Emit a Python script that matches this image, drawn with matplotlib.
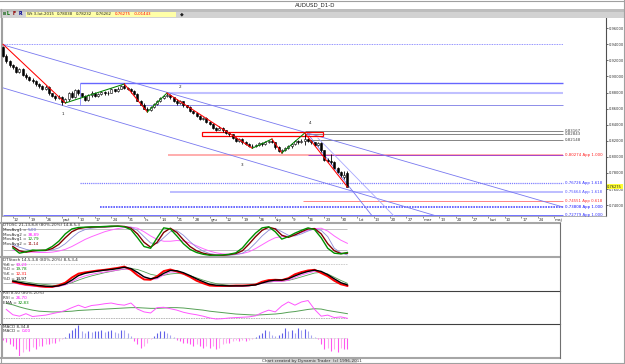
import numpy as np
import pandas as pd
import matplotlib
matplotlib.use('Agg')
import matplotlib.pyplot as plt
from matplotlib.patches import Rectangle

# ---------------- data (AUDUSD daily) ----------------
first_day = '2014-09-09'

opens = [0.9370, 0.9260, 0.9190, 0.9140, 0.9120, 0.9060, 0.9090, 0.9020, 0.8990, 0.8960,
         0.8940, 0.8900, 0.8880, 0.8850, 0.8870, 0.8790, 0.8760, 0.8730, 0.8750, 0.8680,
         0.8720, 0.8790, 0.8740, 0.8830, 0.8790, 0.8760, 0.8710, 0.8770, 0.8800, 0.8760,
         0.8780, 0.8810, 0.8790, 0.8800, 0.8840, 0.8820, 0.8850, 0.8880, 0.8860, 0.8850,
         0.8820, 0.8780, 0.8700, 0.8650, 0.8600, 0.8580, 0.8620, 0.8660, 0.8700, 0.8730,
         0.8760, 0.8770, 0.8740, 0.8700, 0.8670, 0.8690, 0.8640, 0.8620, 0.8570, 0.8550,
         0.8510, 0.8470, 0.8480, 0.8430, 0.8410, 0.8360, 0.8340, 0.8360, 0.8330, 0.8300,
         0.8280, 0.8240, 0.8200, 0.8220, 0.8180, 0.8160, 0.8140, 0.8130, 0.8150, 0.8170,
         0.8160, 0.8190, 0.8200, 0.8180, 0.8120, 0.8070, 0.8090, 0.8110, 0.8130, 0.8160,
         0.8200, 0.8180, 0.8200, 0.8220, 0.8200, 0.8180, 0.8150, 0.8170, 0.8080, 0.7960,
         0.7950, 0.7930, 0.7860, 0.7810, 0.7745, 0.7804]
highs = [0.9380, 0.9275, 0.9200, 0.9160, 0.9130, 0.9110, 0.9100, 0.9040, 0.9000, 0.8975,
         0.8950, 0.8920, 0.8890, 0.8895, 0.8880, 0.8800, 0.8775, 0.8770, 0.8760, 0.8735,
         0.8810, 0.8815, 0.8850, 0.8845, 0.8800, 0.8770, 0.8785, 0.8815, 0.8810, 0.8795,
         0.8825, 0.8820, 0.8815, 0.8855, 0.8850, 0.8865, 0.8895, 0.8906, 0.8875, 0.8860,
         0.8830, 0.8790, 0.8710, 0.8665, 0.8615, 0.8630, 0.8675, 0.8710, 0.8740, 0.8775,
         0.8794, 0.8785, 0.8750, 0.8715, 0.8710, 0.8700, 0.8650, 0.8630, 0.8580, 0.8560,
         0.8520, 0.8500, 0.8490, 0.8445, 0.8420, 0.8375, 0.8380, 0.8370, 0.8340, 0.8315,
         0.8290, 0.8250, 0.8240, 0.8230, 0.8195, 0.8170, 0.8155, 0.8165, 0.8185, 0.8180,
         0.8200, 0.8215, 0.8222, 0.8190, 0.8130, 0.8100, 0.8125, 0.8145, 0.8175, 0.8215,
         0.8210, 0.8225, 0.8297, 0.8240, 0.8215, 0.8190, 0.8185, 0.8180, 0.8090, 0.7990,
         0.8030, 0.7945, 0.7875, 0.7830, 0.7830, 0.7823]
lows = [0.9245, 0.9170, 0.9120, 0.9090, 0.9040, 0.9040, 0.9000, 0.8970, 0.8940, 0.8920,
        0.8880, 0.8860, 0.8830, 0.8835, 0.8770, 0.8740, 0.8710, 0.8715, 0.8645, 0.8665,
        0.8700, 0.8730, 0.8730, 0.8775, 0.8740, 0.8690, 0.8700, 0.8750, 0.8745, 0.8745,
        0.8770, 0.8775, 0.8770, 0.8790, 0.8805, 0.8810, 0.8840, 0.8850, 0.8830, 0.8800,
        0.8765, 0.8690, 0.8640, 0.8590, 0.8558, 0.8570, 0.8610, 0.8645, 0.8680, 0.8715,
        0.8740, 0.8720, 0.8685, 0.8650, 0.8660, 0.8625, 0.8605, 0.8555, 0.8530, 0.8495,
        0.8455, 0.8460, 0.8415, 0.8395, 0.8345, 0.8320, 0.8330, 0.8315, 0.8285, 0.8265,
        0.8225, 0.8185, 0.8190, 0.8165, 0.8145, 0.8120, 0.8107, 0.8120, 0.8135, 0.8140,
        0.8150, 0.8175, 0.8170, 0.8100, 0.8060, 0.8048, 0.8075, 0.8095, 0.8115, 0.8150,
        0.8165, 0.8170, 0.8150, 0.8185, 0.8165, 0.8135, 0.8140, 0.8065, 0.7945, 0.7930,
        0.7915, 0.7845, 0.7795, 0.7745, 0.7730, 0.7626]
closes = [0.9260, 0.9190, 0.9140, 0.9120, 0.9060, 0.9090, 0.9020, 0.8990, 0.8960, 0.8940,
          0.8900, 0.8880, 0.8850, 0.8870, 0.8790, 0.8760, 0.8730, 0.8750, 0.8680, 0.8720,
          0.8790, 0.8740, 0.8830, 0.8790, 0.8760, 0.8710, 0.8770, 0.8800, 0.8760, 0.8780,
          0.8810, 0.8790, 0.8800, 0.8840, 0.8820, 0.8850, 0.8880, 0.8860, 0.8850, 0.8820,
          0.8780, 0.8700, 0.8650, 0.8600, 0.8580, 0.8620, 0.8660, 0.8700, 0.8730, 0.8760,
          0.8770, 0.8740, 0.8700, 0.8670, 0.8690, 0.8640, 0.8620, 0.8570, 0.8550, 0.8510,
          0.8470, 0.8480, 0.8430, 0.8410, 0.8360, 0.8340, 0.8360, 0.8330, 0.8300, 0.8280,
          0.8240, 0.8200, 0.8220, 0.8180, 0.8160, 0.8140, 0.8130, 0.8150, 0.8170, 0.8160,
          0.8190, 0.8200, 0.8180, 0.8120, 0.8070, 0.8090, 0.8110, 0.8130, 0.8160, 0.8200,
          0.8180, 0.8200, 0.8220, 0.8200, 0.8180, 0.8150, 0.8170, 0.8080, 0.7960, 0.7950,
          0.7930, 0.7860, 0.7810, 0.7770, 0.7772, 0.76275]

tick_dates = ['2014-09-12', '2014-09-19', '2014-09-26', '2014-10-03', '2014-10-10', '2014-10-17',
              '2014-10-24', '2014-10-31', '2014-11-07', '2014-11-14', '2014-11-21', '2014-11-28',
              '2014-12-05', '2014-12-12', '2014-12-19', '2014-12-26', '2015-01-02', '2015-01-09',
              '2015-01-16', '2015-01-23', '2015-01-30', '2015-02-06', '2015-02-13', '2015-02-20',
              '2015-02-27', '2015-03-06', '2015-03-13', '2015-03-20', '2015-03-27', '2015-04-03',
              '2015-04-10', '2015-04-17', '2015-04-24', '2015-05-01']
tick_labels = ['12', '19', '26', 'paź', '10', '17', '24', '31', 'lis', '14', '21', '28',
               'gru', '12', '19', '26', 'sty', '9', '16', '23', '30', 'lut', '13', '20',
               '27', 'mar', '13', '20', '27', 'kwi', '10', '17', '24', 'maj']
price_ticks = [0.74, 0.76, 0.78, 0.80, 0.82, 0.84, 0.86, 0.88, 0.90, 0.92, 0.94, 0.96]

# swing points (index, price) for the zigzag
swing_idx = [0, 19, 37, 44, 50, 76, 82, 85, 92, 105]
swing_px = [0.9400, 0.8670, 0.8906, 0.8558, 0.8794, 0.8107, 0.8222, 0.8048, 0.8297, 0.7626]
wave_labels = ['1', '2', '3', '4']
wave_idx = [18.3, 54.0, 73.0, 93.6]
wave_px = [0.8532, 0.8869, 0.7899, 0.8421]

# horizontal levels
level_px = [0.9400, 0.8915, 0.8798, 0.8641, 0.83167, 0.82843, 0.82148, 0.80274,
            0.76726, 0.75664, 0.74551, 0.73808, 0.72779]
level_start = [-1, 23.5, 50.3, 19.5, 92, 92, 92, 50.3, 23.5, 51, 91.5, 29.6, 0]
level_text = ['', '', '', '', '0,83167', '0,82843', '0,82148', '0,80274 App 1.000',
              '0,76726 App 1.618', '0,75664 App 1.618', '0,74551 App 0.618',
              '0,73808 App 1.000', '0,72779 App 1.000']

# trend / channel lines: (start idx, end idx), (start price, end price)
trend_idx = [(-0.9, 170.7), (-0.9, 133.2), (92.7, 112.8), (96.0, 119.5)]
trend_px = [(0.94037, 0.73764), (0.88689, 0.72520), (0.8297, 0.7252), (0.8234, 0.7252)]
box_idx = (60.7, 97.6)
box_px = (0.8263, 0.8313)

# indicators
osc_idx = list(range(3, 106, 2))
dtosc_fast = [26, 11, 15, 20, 19, 20, 30, 45, 66, 80, 84, 85, 86, 86, 87, 88, 88, 86, 78, 55,
              30, 25, 55, 83, 80, 60, 38, 22, 13, 8, 5, 5, 6, 8, 12, 26, 48, 68, 83, 86,
              72, 51, 58, 68, 76, 83, 78, 55, 25, 11, 9, 13]
dtosc_sig = [30, 18, 14, 17, 19, 19, 24, 36, 55, 72, 81, 84, 85, 86, 86, 87, 88, 87, 82, 66,
             42, 28, 42, 70, 82, 70, 49, 30, 18, 11, 7, 5, 5, 7, 10, 18, 37, 58, 76, 85,
             80, 62, 56, 63, 72, 80, 81, 66, 38, 18, 10, 11]
dtosc_slow1 = [35, 28, 22, 18, 17, 18, 20, 26, 38, 55, 70, 78, 82, 84, 85, 86, 87, 87, 85, 76,
               58, 40, 38, 55, 72, 75, 62, 44, 28, 17, 10, 7, 5, 5, 7, 11, 22, 40, 60, 76,
               82, 72, 62, 60, 66, 74, 80, 76, 58, 25, 12, 6]
dtosc_slow2 = [20, 17, 15, 14, 13, 13, 14, 17, 22, 30, 40, 50, 58, 65, 72, 77, 81, 84, 85, 82,
               72, 60, 50, 45, 45, 47, 46, 40, 32, 24, 17, 12, 9, 8, 8, 10, 15, 24, 35, 46,
               55, 58, 60, 64, 70, 76, 81, 82, 74, 60, 48, 39]
stoch_k2 = [25, 20, 16, 14, 11, 9, 9, 14, 22, 38, 50, 54, 57, 60, 62, 65, 68, 72, 62, 45,
            32, 31, 42, 58, 63, 57, 50, 40, 28, 20, 13, 12, 12, 12, 13, 13, 14, 16, 25, 30,
            31, 30, 36, 48, 55, 60, 62, 52, 42, 28, 17, 12]
stoch_d2 = [27, 23, 19, 16, 13, 11, 10, 12, 18, 30, 44, 51, 55, 58, 61, 63, 66, 70, 66, 54,
            40, 34, 38, 51, 60, 59, 53, 44, 34, 25, 17, 14, 13, 12, 12, 12, 13, 15, 21, 27,
            30, 30, 34, 43, 51, 57, 61, 57, 47, 34, 22, 15]
stoch_k1 = [22, 17, 13, 11, 9, 8, 8, 10, 15, 25, 36, 43, 48, 52, 55, 58, 61, 65, 62, 52,
            40, 32, 34, 46, 55, 55, 49, 40, 30, 21, 14, 11, 10, 10, 10, 10, 12, 15, 20, 24,
            26, 26, 29, 38, 46, 52, 57, 54, 44, 31, 19, 10]
stoch_d1 = [30, 27, 24, 21, 18, 16, 14, 14, 16, 22, 30, 37, 43, 48, 53, 57, 61, 64, 66, 63,
            56, 48, 44, 45, 49, 51, 49, 44, 37, 30, 24, 19, 16, 14, 13, 13, 14, 17, 21, 24,
            26, 27, 29, 34, 40, 46, 52, 54, 49, 39, 29, 20]
rsi_idx = list(range(1, 106, 2))
rsi = [45, 30, 26, 33, 25, 27, 29, 33, 37, 42, 50, 57, 50, 56, 58, 61, 63, 59, 57, 63,
       46, 38, 35, 50, 51, 47, 43, 37, 33, 30, 26, 21, 18, 19, 21, 22, 23, 24, 27, 36,
       43, 38, 55, 66, 57, 66, 70, 45, 26, 29, 22, 24, 20]
rsi_ema = [62, 58, 52, 47, 43, 40, 39, 38, 38, 39, 40, 42, 43, 44, 45, 46, 47, 48, 49, 50,
           50, 49, 48, 48, 49, 50, 50, 49, 47, 45, 43, 40, 38, 36, 34, 32, 31, 30, 29, 30,
           31, 32, 34, 37, 39, 42, 45, 47, 46, 42, 39, 36, 33]
macd_hist = [-6, -12, -18, -26, -35, -55, -44, -35, -40, -29,
             -35, -24, -24, -19, -19, -15, -15, -10, -3, 3,
             15, 25, 30, 40, 20, 15, 20, 17, 20, 20,
             23, 17, 20, 23, 17, 15, 25, 23, 15, 5,
             -10, -20, -30, -25, -15, -3, 6, 15, 20, 20,
             15, 10, 3, -5, -10, -15, -15, -20, -25, -20,
             -25, -30, -25, -30, -25, -35, -30, -20, -15, -15,
             -10, -5, -10, -5, -10, -5, -3, 3, 10, 15,
             25, 20, 10, 5, 10, 15, 30, 20, 25, 15,
             30, 25, 27, 21, 10, 3, -3, -20, -35, -30,
             -40, -35, -45, -30, -35, -35]

toolbar_vals = ['Wt 3-lut-2015', '0,78038', '0,78232', '0,76262', '0,76275', '-0,01443']

# ---------------- layout helpers ----------------
W, H = 625, 364
FS = 3.0          # tiny bitmap-like font
PX = 3.28         # pixels per candle
X0 = 3.0          # pixel column of first candle


def box(x0, y0, x1, y1):
    return [x0 / W, 1 - y1 / H, (x1 - x0) / W, (y1 - y0) / H]


def ix(px):
    return (px - X0) / PX


def fmt(v):
    return '{:.5f}'.format(v).replace('.', ',')


fig = plt.figure(figsize=(W / 100, H / 100), dpi=100, facecolor='white')

# ---------------- main price chart ----------------
ax = fig.add_axes(box(2, 18, 606, 216))
ax.set_xlim(ix(2), ix(606))
ax.set_ylim(0.72644, 0.9727)
ax.spines['top'].set_visible(False)
ax.spines['left'].set_color('#a0a0a0')
ax.spines['bottom'].set_color('#a0a0a0')
ax.spines['bottom'].set_linewidth(0.6)
ax.spines['right'].set_color('#505050')
ax.spines['right'].set_linewidth(0.8)
ax.yaxis.tick_right()
ax.set_yticks(price_ticks)
ax.set_yticklabels([fmt(v) for v in price_ticks])
ax.tick_params(axis='y', length=1.5, width=0.5, pad=0.4, labelsize=2.6, colors='#333333')

bdays = pd.bdate_range(first_day, periods=200)
tick_pos = [bdays.get_loc(pd.Timestamp(d)) for d in tick_dates]
ax.set_xticks(tick_pos)
ax.set_xticklabels([])
ax.tick_params(axis='x', length=1.5, width=0.5, colors='#666666')
for p, lab in zip(tick_pos, tick_labels):
    ax.text(p + 0.3, -0.01, lab, transform=ax.get_xaxis_transform(), ha='left', va='top',
            fontsize=FS, color='#333333')

o = np.array(opens)
h = np.array(highs)
l = np.array(lows)
c = np.array(closes)
x = np.arange(len(c))
up = c >= o

# levels
lvl_style = [dict(color='#7070ff', lw=0.6, ls=(0, (1, 1))),
             dict(color='#6666ff', lw=1.0),
             dict(color='#c0c0ff', lw=1.5),
             dict(color='#6060e0', lw=0.5),
             dict(color='#707070', lw=0.6),
             dict(color='#707070', lw=0.6),
             dict(color='#707070', lw=0.6),
             dict(color='#ffa0a0', lw=1.2),
             dict(color='#8080ff', lw=0.9, ls=(0, (1, 0.7))),
             dict(color='#b8b8ff', lw=1.3),
             dict(color='#ff7070', lw=0.6),
             dict(color='#5050ff', lw=1.2, ls=(0, (1, 0.6))),
             dict(color='#7070ff', lw=0.7)]
lvl_txt_col = ['k', 'k', 'k', 'k', '#404040', '#404040', '#404040', '#ff2020',
               '#3030ff', '#5050ff', '#ff3030', '#1010ff', '#3030ff']
for k, lv in enumerate(level_px):
    ax.hlines(lv, level_start[k], ix(563), zorder=2, **lvl_style[k])
    if level_text[k]:
        ax.text(ix(565), lv, level_text[k], fontsize=2.8, va='center', ha='left',
                color=lvl_txt_col[k], zorder=5)
# purple overlay on the 1.000 level
ax.hlines(level_px[7], 93, ix(563), color='#9933cc', lw=0.6, zorder=2)
ax.vlines(level_start[1], level_px[3], level_px[1], color='#7070ff', lw=0.5, zorder=2)

# channel / trend lines
tr_col = ['#7878f0', '#7878f0', '#7878f0', '#a8a8ff']
for k in range(len(trend_idx)):
    ax.plot(trend_idx[k], trend_px[k], color=tr_col[k], lw=0.6, zorder=2)

ax.add_patch(Rectangle((box_idx[0], box_px[0]), box_idx[1] - box_idx[0], box_px[1] - box_px[0],
                       fill=False, ec='#ff0000', lw=0.9, zorder=3))

# candles
ax.vlines(x, l, h, color='black', lw=0.6, zorder=4)
ax.bar(x, np.maximum(np.abs(c - o), 0.0003), bottom=np.minimum(o, c), width=0.62,
       color=np.where(up, 'white', 'black'), edgecolor='black', linewidth=0.4, zorder=4)

# zigzag
for k in range(len(swing_idx) - 1):
    col = '#ff0000' if swing_px[k + 1] < swing_px[k] else '#008000'
    ax.plot(swing_idx[k:k + 2], swing_px[k:k + 2], color=col, lw=0.75, zorder=5)
for lab, wi, wp in zip(wave_labels, wave_idx, wave_px):
    ax.text(wi, wp, lab, fontsize=FS, ha='center', va='center', color='#202020')

ax.text(1.002, c[-1], fmt(c[-1]), transform=ax.get_yaxis_transform(), fontsize=2.6,
        va='center', ha='left', color='#202020',
        bbox=dict(fc='#ffff33', ec='none', pad=0.3), zorder=6)


# ---------------- indicator panels ----------------
def panel(y0, y1, ylo, yhi):
    a = fig.add_axes(box(2, y0, 560, y1))
    a.set_xlim(ix(2), ix(560))
    a.set_ylim(ylo, yhi)
    a.set_xticks([])
    a.set_yticks([])
    for s in a.spines.values():
        s.set_visible(False)
    a.spines['left'].set_visible(True)
    a.spines['left'].set_color('#a0a0a0')
    return a


last = len(c) - 1
p1 = panel(224, 256, 3, 94)
p1.hlines([80, 20], 0, last, color='#b4b4b4', lw=0.6)
p1.plot(osc_idx, dtosc_slow2, color='#ff66ff', lw=0.7)
p1.plot(osc_idx, dtosc_slow1, color='#8c8cd8', lw=0.6)
p1.plot(osc_idx, dtosc_sig, color='#800000', lw=1.0)
p1.plot(osc_idx, dtosc_fast, color='#009000', lw=1.0)

p2 = panel(258, 290, -0.8, 98.7)
p2.hlines(80, 0, last, color='#c8c8c8', lw=0.6, ls=(0, (2, 1)))
p2.hlines(20, 0, last, color='#a8a8a8', lw=0.6)
p2.plot(osc_idx, stoch_d1, color='#55a055', lw=0.6)
p2.plot(osc_idx, stoch_k1, color='#ff55ff', lw=0.6)
p2.plot(osc_idx, stoch_k2, color='#ff0000', lw=1.4)
p2.plot(osc_idx, stoch_d2, color='#000000', lw=1.0)

p3 = panel(292, 323, 6.8, 94)
p3.hlines(20, 0, last, color='#b0b0b0', lw=0.6, ls=(0, (2, 1)))
p3.plot(rsi_idx, rsi_ema, color='#55a055', lw=0.7)
p3.plot(rsi_idx, rsi, color='#ff55ff', lw=0.7)

p4 = panel(325, 356, -56, 40)
p4.hlines(0, 0, last, color='#b0b0b0', lw=0.5, ls=(0, (1, 1)))
mh = np.array(macd_hist, dtype=float)
grow = np.abs(mh) >= np.abs(np.concatenate([[0], mh[:-1]]))
mcol = np.where(mh >= 0, np.where(grow, '#6060e8', '#a8a8f0'),
                np.where(grow, '#ff55ee', '#ffa8f0'))
p4.vlines(np.arange(len(mh)), 0, mh, colors=mcol, lw=0.8)

# ---------------- overlay: frame, toolbar, texts ----------------
ov = fig.add_axes([0, 0, 1, 1], zorder=10)
ov.set_xlim(0, W)
ov.set_ylim(H, 0)
ov.axis('off')
ov.patch.set_alpha(0)

ov.plot([0, W], [0.5, 0.5], color='#a0a0a0', lw=0.8)
ov.add_patch(Rectangle((0, 9), W, 8.5, color='#d2d2d2', lw=0))
ov.add_patch(Rectangle((0, 9), W, 2.5, color='#bdbdbd', lw=0))
ov.text(315, 5, 'AUDUSD_D1-D', fontsize=4, ha='center', va='center', color='#202020')

ov.add_patch(Rectangle((2.5, 12), 3, 3, color='#5a8a5a', lw=0))
ov.text(7, 13.8, 'L', fontsize=FS + 0.4, color='#007000', ha='left', va='center', weight='bold')
ov.text(13, 13.8, 'F', fontsize=FS + 0.4, color='#900000', ha='left', va='center', weight='bold')
ov.text(19, 13.8, 'R', fontsize=FS + 0.4, color='#000090', ha='left', va='center', weight='bold')
ov.add_patch(Rectangle((26, 11.5), 150, 5, color='#ffffa8', lw=0))
bar_col = ['#202020', '#202020', '#202020', '#202020', '#ff0000', '#ff0000']
prev = ov.text(27, 14, toolbar_vals[0], fontsize=2.8, color=bar_col[0], ha='left', va='center')
for s, bc in zip(toolbar_vals[1:], bar_col[1:]):
    prev = ov.annotate(s, xy=(1, 0.5), xycoords=prev, xytext=(2.2, 0), textcoords='offset points',
                       fontsize=2.8, color=bc, ha='left', va='center')
ov.text(182, 14, '◆', fontsize=FS + 0.5, color='#202020', ha='center', va='center')

sep = [(223, '#a6a6a6', 1.5), (257, '#a6a6a6', 1.5), (291, '#404040', 0.8),
       (324, '#404040', 0.8), (357.5, '#a6a6a6', 1.5)]
for yy, col, lw in sep:
    ov.plot([0, 560], [yy, yy], color=col, lw=lw)
ov.plot([560, 560], [223, 358], color='#707070', lw=0.8)
ov.plot([1, 1], [9, 363], color='#a0a0a0', lw=0.8)
ov.plot([624, 624], [0, 364], color='#a0a0a0', lw=0.8)
ov.plot([0, W], [363, 363], color='#a0a0a0', lw=0.8)


def two_tone(xp, yp, s1, s2, col):
    t = ov.text(xp, yp, s1, fontsize=FS, color='#303030', ha='left', va='center')
    ov.annotate(s2, xy=(1, 0.5), xycoords=t, fontsize=FS, color=col, ha='left', va='center')


ov.text(3, 225.5, 'DTOSC 21,13,8,8 (80%-20%) 14,8,5,3', fontsize=FS, color='#303030', va='center')
two_tone(3, 230.2, 'MovAvg1 = ', '5,00', '#6060d0')
two_tone(3, 234.8, 'MovAvg2 = ', '38,89', '#ff00ff')
two_tone(3, 239.4, 'MovAvg1 = ', '12,79', '#008800')
two_tone(3, 244.0, 'MovAvg2 = ', '11,14', '#900000')

ov.text(3, 260, 'DTStoch 14,5,3,8 (80%-20%) 8,5,3,4', fontsize=FS, color='#303030', va='center')
two_tone(3, 264.7, '%K = ', '10,23', '#ff00ff')
two_tone(3, 269.3, '%D = ', '19,78', '#008800')
two_tone(3, 274.0, '%K = ', '12,31', '#ff0000')
two_tone(3, 278.7, '%D = ', '14,97', '#000000')

ov.text(3, 293.5, 'RSI 8,50 (80%-20%)', fontsize=FS, color='#303030', va='center')
two_tone(3, 298.2, 'RSI = ', '26,70', '#ff00ff')
two_tone(3, 302.8, 'EMA = ', '32,83', '#008800')

ov.text(3, 326.5, 'MACD 8,34,8', fontsize=FS, color='#303030', va='center')
two_tone(3, 331.2, 'MACD = ', '0,00', '#ff00ff')

ov.add_patch(Rectangle((267, 358.5), 90, 4.5, color='#d6d6d6', lw=0))
ov.text(312, 360.8, 'Chart created by Dynamic Trader  (c) 1996-2011', fontsize=FS,
        color='#303030', ha='center', va='center')

fig.savefig('out.png', dpi=100, facecolor='white')
